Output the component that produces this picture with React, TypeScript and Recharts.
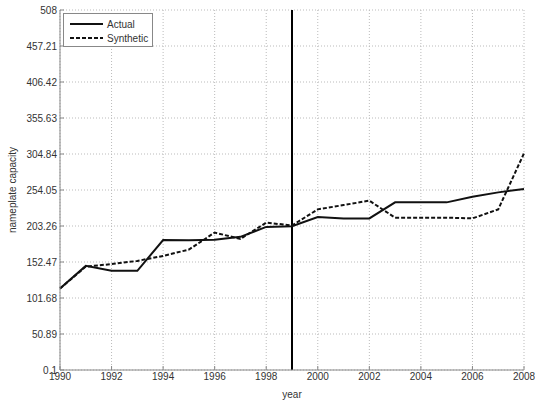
import React from 'react';
import { LineChart, Line, XAxis, YAxis, CartesianGrid, ReferenceLine } from 'recharts';

const years = [1990, 1991, 1992, 1993, 1994, 1995, 1996, 1997, 1998, 1999, 2000, 2001, 2002, 2003, 2004, 2005, 2006, 2007, 2008];
const actual = [115, 147, 140, 140, 183.5, 183, 184, 188, 202, 203, 216, 214, 214, 236.6, 236.6, 236.6, 244.6, 250.7, 255.4];
const synthetic = [115, 146, 149.5, 154, 161, 170, 194, 185, 208, 204, 226.7, 232.8, 239, 215, 215, 215, 214, 226.7, 305.8];
const yTicks = [0.1, 50.89, 101.68, 152.47, 203.26, 254.05, 304.84, 355.63, 406.42, 457.21, 508];
const xTicks = [1990, 1992, 1994, 1996, 1998, 2000, 2002, 2004, 2006, 2008];
const treatmentYear = 1999;

const data = years.map((y, i) => ({ year: y, actual: actual[i], synthetic: synthetic[i] }));

const font = 'Arial, "Liberation Sans", sans-serif';
const tickStyle = { fontSize: 10, fill: '#333', fontFamily: font };

const LegendBox = () => (
  <svg width={90} height={34} style={{ display: 'block' }}>
    <rect x={0.5} y={0.5} width={89} height={33} fill="#fff" stroke="#888" strokeWidth={1} />
    <line x1={7} y1={11} x2={40} y2={11} stroke="#111" strokeWidth={2} />
    <text x={44} y={14.5} fontSize={10} fontFamily={font} fill="#333">Actual</text>
    <line x1={7} y1={25} x2={40} y2={25} stroke="#111" strokeWidth={2} strokeDasharray="4 2" />
    <text x={44} y={28.5} fontSize={10} fontFamily={font} fill="#333">Synthetic</text>
  </svg>
);

export default function App() {
  return (
    <div style={{ position: 'absolute', left: 0, top: 0, width: 535, height: 402, background: '#fff' }}>
      <LineChart width={535} height={402} data={data} margin={{ top: 10, right: 11, left: 0, bottom: 0 }}>
        <CartesianGrid stroke="#bbb" strokeDasharray="1 2" />
        <XAxis
          dataKey="year"
          type="number"
          domain={[1990, 2008]}
          ticks={xTicks}
          interval={0}
          height={32}
          tick={tickStyle}
          stroke="#888"
          tickSize={-4}
          tickMargin={7}
          label={{ value: 'year', position: 'insideBottom', offset: 4, style: { fontSize: 10, fill: '#333', fontFamily: font } }}
        />
        <XAxis xAxisId="top" orientation="top" dataKey="year" type="number" domain={[1990, 2008]} ticks={xTicks} height={0} tick={false} stroke="#888" tickSize={-4} />
        <YAxis
          type="number"
          domain={[0.1, 508]}
          ticks={yTicks}
          interval={0}
          width={60}
          tick={tickStyle}
          stroke="#888"
          tickSize={-4}
          tickMargin={7}
          label={{ value: 'nameplate capacity', angle: -90, position: 'insideLeft', offset: 12, style: { fontSize: 10, fill: '#333', fontFamily: font, textAnchor: 'middle' } }}
        />
        <YAxis yAxisId="right" orientation="right" type="number" domain={[0.1, 508]} ticks={yTicks} width={0} tick={false} stroke="#888" tickSize={-4} />
        <ReferenceLine x={treatmentYear} stroke="#000" strokeWidth={2} />
        <Line type="linear" dataKey="actual" name="Actual" stroke="#111" strokeWidth={2} dot={false} isAnimationActive={false} />
        <Line type="linear" dataKey="synthetic" name="Synthetic" stroke="#111" strokeWidth={2} strokeDasharray="4 2" dot={false} isAnimationActive={false} />
      </LineChart>
      <div style={{ position: 'absolute', left: 63, top: 13 }}>
        <LegendBox />
      </div>
    </div>
  );
}
